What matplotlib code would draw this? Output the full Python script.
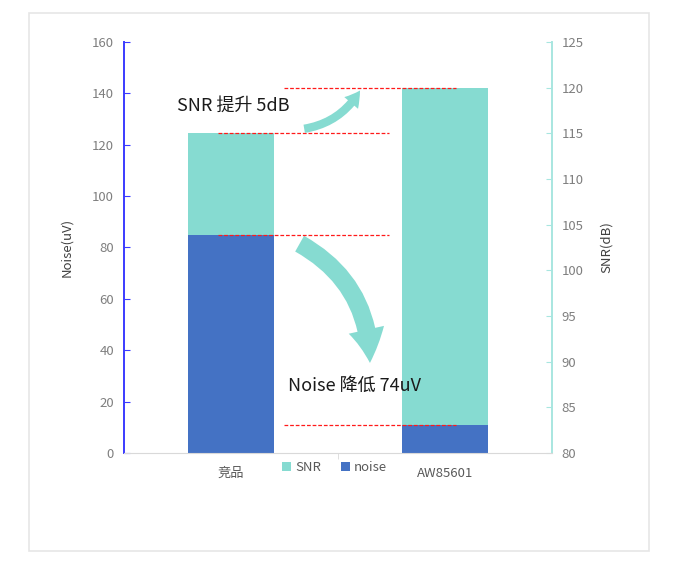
import numpy as np
import matplotlib.pyplot as plt
from matplotlib.patches import FancyArrowPatch, Rectangle

plt.rcParams['font.family'] = ['Noto Sans CJK SC', 'DejaVu Sans']

# --- data ---
categories = ['竞品', 'AW85601']
noise_uv = [85, 11]        # left axis
snr_db = [115, 120]        # right axis
noise_ylim = (0, 160)
snr_ylim = (80, 125)

TEAL = '#86dbd1'
BLUE = '#4472c4'
GRAY = '#7f7f7f'

fig = plt.figure(figsize=(6.73, 5.65), dpi=100)
ax1 = fig.add_axes([0.184, 0.198, 0.636, 0.728])
ax2 = ax1.twinx()

x = np.arange(len(categories))
w = 0.4

# SNR on right axis, noise in front on left axis
ax2.bar(x, np.array(snr_db) - snr_ylim[0], bottom=snr_ylim[0], width=w,
        color=TEAL, label='SNR')
ax1.bar(x, noise_uv, width=w, color=BLUE, label='noise')
ax1.set_zorder(ax2.get_zorder() + 1)
ax1.patch.set_visible(False)

ax1.set_xlim(-0.5, 1.5)
ax1.set_ylim(*noise_ylim)
ax2.set_ylim(*snr_ylim)
ax1.set_yticks(np.arange(0, 161, 20))
ax2.set_yticks(np.arange(80, 126, 5))
ax1.set_xticks(x)
ax1.set_xticklabels(categories)
ax1.set_xticks([0.5], minor=True)

# spines
for a in (ax1, ax2):
    a.spines['top'].set_visible(False)
ax1.spines['left'].set_color('#3b3bff')
ax1.spines['left'].set_linewidth(1.4)
ax1.spines['right'].set_visible(False)
ax2.spines['left'].set_visible(False)
ax2.spines['right'].set_color('#a8e6e0')
ax2.spines['right'].set_linewidth(1.4)
ax2.spines['bottom'].set_visible(False)
ax1.spines['bottom'].set_color('#d9d9d9')

ax1.tick_params(axis='y', direction='in', length=4, color='#3b3bff',
                labelsize=9.5, labelcolor=GRAY, pad=7)
ax2.tick_params(axis='y', direction='in', length=4, color='#a8e6e0',
                labelsize=9.5, labelcolor=GRAY, pad=7)
ax1.tick_params(axis='x', which='major', length=0, labelsize=9.5,
                labelcolor='#595959', pad=10)
ax1.tick_params(axis='x', which='minor', length=4, color='#d9d9d9')

ax1.set_ylabel('Noise(uV)', fontsize=9.5, color='#404040', labelpad=14)
ax2.set_ylabel('SNR(dB)', fontsize=9.5, color='#404040', labelpad=12)

# red dashed guide lines
dash = dict(ls=(0, (3, 1.5)), color='#ff1a1a', lw=0.9, zorder=5)
ax2.plot([-0.06, 0.74], [snr_db[0]] * 2, **dash)
ax2.plot([0.25, 1.05], [snr_db[1]] * 2, **dash)
ax1.plot([-0.06, 0.74], [noise_uv[0]] * 2, **dash)
ax1.plot([0.25, 1.05], [noise_uv[1]] * 2, **dash)

# curved arrows
up = FancyArrowPatch((0.33, 126), (0.61, 142), connectionstyle='arc3,rad=0.25',
                     arrowstyle='simple,head_width=13,head_length=11,tail_width=6',
                     color=TEAL, lw=0, zorder=4)
ax1.add_patch(up)
down = FancyArrowPatch((0.31, 82), (0.65, 34), connectionstyle='arc3,rad=-0.3',
                       arrowstyle='simple,head_width=26,head_length=24,tail_width=13',
                       color=TEAL, lw=0, zorder=4)
ax1.add_patch(down)

ax1.text(-0.25, 135, 'SNR 提升 5dB', fontsize=13, color='#1a1a1a', va='center')
ax1.text(0.265, 26, 'Noise 降低 74uV', fontsize=13, color='#1a1a1a', va='center')

# legend
h1, l1 = ax2.get_legend_handles_labels()
h2, l2 = ax1.get_legend_handles_labels()
fig.legend(h1 + h2, l1 + l2, loc='center', bbox_to_anchor=(0.497, 0.173),
           ncol=2, frameon=False, fontsize=9.5, handlelength=0.7, handleheight=0.7,
           handletextpad=0.3, columnspacing=1.5, labelcolor='#595959')

# outer frame
fig.patches.append(Rectangle((0.043, 0.025), 0.921, 0.952, transform=fig.transFigure,
                             fill=False, edgecolor='#e6e6e6', lw=1.2))

fig.savefig('out.png', dpi=100)
